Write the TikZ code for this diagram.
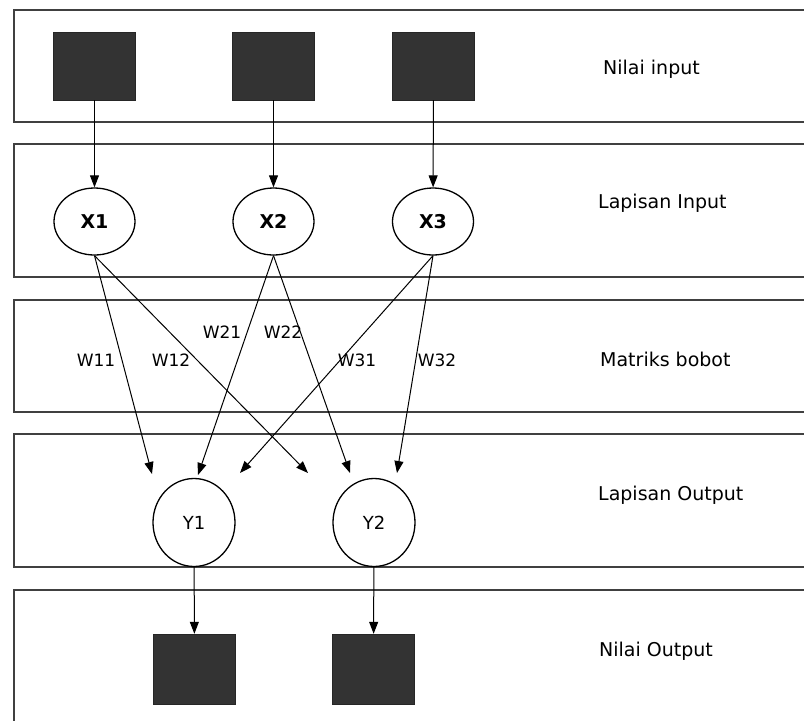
\documentclass[tikz,border=0pt]{standalone}
\usepackage{fontspec}
\setmainfont{DejaVu Sans}
\usetikzlibrary{arrows.meta,shapes.geometric}
\begin{document}
\begin{tikzpicture}[x=1pt,y=-1pt,
  band/.style={draw=black!75,line width=1.8pt},
  valbox/.style={rectangle,fill=black!80,draw=black!85,minimum width=82pt,minimum height=68pt,inner sep=0pt},
  inunit/.style={ellipse,draw,line width=1.3pt,minimum width=81pt,minimum height=67pt,inner sep=0pt,font=\fontsize{19}{19}\selectfont\bfseries},
  outunit/.style={ellipse,draw,line width=1.3pt,minimum width=82pt,minimum height=88pt,inner sep=0pt,font=\fontsize{18}{18}\selectfont},
  wire/.style={line width=1pt,-{Triangle[length=12pt,width=9pt]}},
  wlabel/.style={font=\fontsize{17}{17}\selectfont,inner sep=1pt},
  bandlabel/.style={anchor=west,font=\fontsize{19}{19}\selectfont,inner sep=0pt}]
\useasboundingbox (0,0) rectangle (804,721);

% layer bands, open to the right
\draw[band] (804,10) -- (14,10) -- (14,122) -- (804,122);
\draw[band] (804,144) -- (14,144) -- (14,277) -- (804,277);
\draw[band] (804,300) -- (14,300) -- (14,412) -- (804,412);
\draw[band] (804,434) -- (14,434) -- (14,567) -- (804,567);
\draw[band] (804,590) -- (14,590) -- (14,721);

% band titles
\node[bandlabel] (t1) at (603,69) {Nilai input};
\node[bandlabel] (t2) at (598,203) {Lapisan Input};
\node[bandlabel] (t3) at (600,359) {Matriks bobot};
\node[bandlabel] (t4) at (598,495) {Lapisan Output};
\node[bandlabel] (t5) at (599,651) {Nilai Output};

% input values
\node[valbox] (in1) at (94.5,66) {};
\node[valbox] (in2) at (273.5,66) {};
\node[valbox] (in3) at (433.5,66) {};

% input units
\node[inunit] (X1) at (94.5,221.5) {X1};
\node[inunit] (X2) at (273.5,221.5) {X2};
\node[inunit] (X3) at (433,221.5) {X3};

% output units
\node[outunit] (Y1) at (194,522.5) {Y1};
\node[outunit] (Y2) at (374,522.5) {Y2};

% output values
\node[valbox,minimum height=70pt] (out1) at (194.5,669) {};
\node[valbox,minimum height=70pt] (out2) at (373.5,669) {};

% free ends of the weight connections
\coordinate (e11) at (152,474);
\coordinate (e12) at (308,473);
\coordinate (e21) at (198,475);
\coordinate (e22) at (350,473);
\coordinate (e31) at (240,473);
\coordinate (e32) at (397,473);

% connections
\draw[wire] (in1) -- (X1);
\draw[wire] (in2) -- (X2);
\draw[wire] (in3) -- (X3);
\draw[wire] (X1.south) -- (e11);
\draw[wire] (X1.south) -- (e12);
\draw[wire] (X2.south) -- (e21);
\draw[wire] (X2.south) -- (e22);
\draw[wire] (X3.south) -- (e31);
\draw[wire] (X3.south) -- (e32);
\draw[wire] (Y1) -- (out1);
\draw[wire] (Y2) -- (out2);

% weight labels
\node[wlabel] (w11) at (96,360) {W11};
\node[wlabel] (w12) at (171,360) {W12};
\node[wlabel] (w21) at (222,332) {W21};
\node[wlabel] (w22) at (283,332) {W22};
\node[wlabel] (w31) at (357,360) {W31};
\node[wlabel] (w32) at (437,360) {W32};
\end{tikzpicture}
\end{document}
